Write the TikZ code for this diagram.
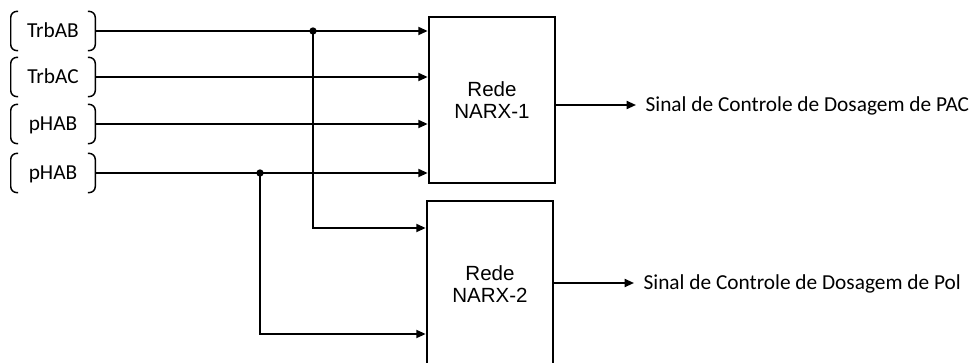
\documentclass[tikz,border=0pt]{standalone}
\usepackage{fontspec}
\setmainfont{Carlito}
\newfontfamily\arialfont{Liberation Sans}
\usetikzlibrary{arrows.meta, positioning, calc}

\begin{document}
\begin{tikzpicture}[x=0.75pt, y=-0.75pt,
    entrada/.style={minimum width=63pt, minimum height=29pt, inner sep=0pt,
                    text height=10.3pt, text depth=0pt,
                    font=\fontsize{16}{19}\selectfont},
    colchete/.style={line width=1.1pt, rounded corners=4.5pt},
    rede/.style={draw, line width=1.5pt, minimum width=95pt,
                 minimum height=124.5pt, align=center,
                 font=\arialfont\fontsize{15.4}{16.7}\selectfont},
    seta/.style={line width=1.35pt, -{Triangle[length=7pt, width=6pt]}},
    saida/.style={anchor=west, inner xsep=7pt, inner ysep=0pt,
                  text height=10.3pt, text depth=0pt,
                  font=\fontsize{16}{19}\selectfont},
    ponto/.style={circle, fill, inner sep=0pt, minimum size=5.5pt}
]
  \useasboundingbox (0,0) rectangle (972,363);

  \node[rede] (rede1) at (492,100) {Rede\\NARX-1};
  \node[rede] (rede2) at (490,284) {Rede\\NARX-2};

  \foreach \t/\i/\y in {TrbAB/1/31, TrbAC/2/77, pHAB/3/124, pHAB/4/173} {
    \node[entrada] (in\i) at (53,\y) {\t};
    \draw[colchete] ([xshift=5.5pt]in\i.north west) -- (in\i.north west)
      -- (in\i.south west) -- ([xshift=5.5pt]in\i.south west);
    \draw[colchete] ([xshift=-5.5pt]in\i.north east) -- (in\i.north east)
      -- (in\i.south east) -- ([xshift=-5.5pt]in\i.south east);
    \draw[seta] (in\i.east) -- (in\i.east -| rede1.west);
  }

  \node[ponto] (j1) at (313,31) {};
  \node[ponto] (j2) at (260,173) {};
  \draw[seta] (j1.center) |- (rede2.west |- 0,228);
  \draw[seta] (j2.center) |- (rede2.west |- 0,334);

  \node[saida] (s1) at (636,105) {Sinal de Controle de Dosagem de PAC};
  \node[saida] (s2) at (634,283) {Sinal de Controle de Dosagem de Pol};
  \draw[seta] (rede1.east |- s1.west) -- (s1.west);
  \draw[seta] (rede2.east |- s2.west) -- (s2.west);
\end{tikzpicture}
\end{document}
